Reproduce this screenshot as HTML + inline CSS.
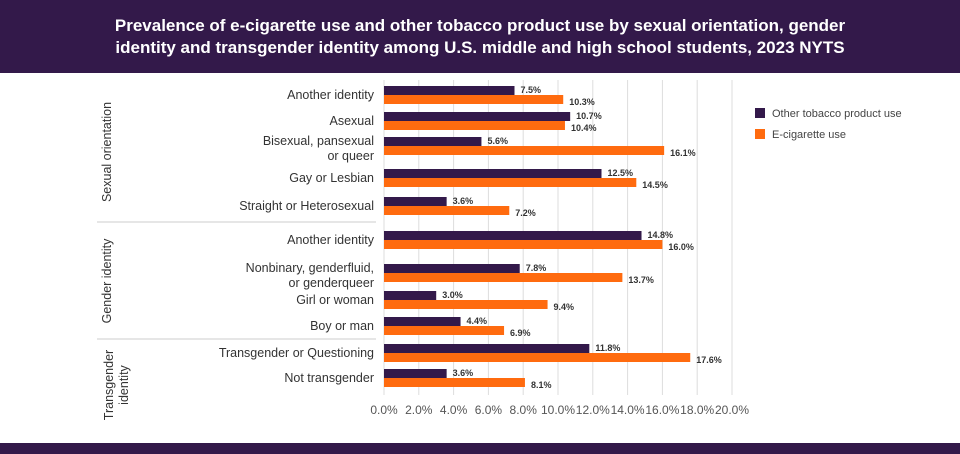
<!DOCTYPE html>
<html><head><meta charset="utf-8"><style>
body{margin:0;width:960px;height:454px;overflow:hidden;background:#fff;font-family:"Liberation Sans",sans-serif;}
#hdr{position:absolute;left:0;top:0;width:960px;height:73px;background:#33194a;color:#fff;text-align:center;font-size:17px;font-weight:bold;line-height:22px;padding-top:15px;box-sizing:border-box;}
#ftr{position:absolute;left:0;top:443px;width:960px;height:11px;background:#33194a;}
</style></head><body>
<div id="hdr">Prevalence of e-cigarette use and other tobacco product use by sexual orientation, gender<br>identity and transgender identity among U.S. middle and high school students, 2023 NYTS</div>
<svg id="chart" width="960" height="454" style="position:absolute;left:0;top:0"></svg>
<div id="ftr"></div>
<script>
const categories=[["Another identity"],["Asexual"],["Bisexual, pansexual","or queer"],["Gay or Lesbian"],["Straight or Heterosexual"],["Another identity"],["Nonbinary, genderfluid,","or genderqueer"],["Girl or woman"],["Boy or man"],["Transgender or Questioning"],["Not transgender"]];
const otherTobacco=[7.5,10.7,5.6,12.5,3.6,14.8,7.8,3.0,4.4,11.8,3.6];
const eCigarette=[10.3,10.4,16.1,14.5,7.2,16.0,13.7,9.4,6.9,17.6,8.1];
const ticks=[0,2,4,6,8,10,12,14,16,18,20];
const rowTops=[86,112,137,169,197,231,264,291,317,344,369];
const NS="http://www.w3.org/2000/svg";
const svg=document.getElementById('chart');
const x0=384,pxPer=17.4;
const xs=v=>x0+v*pxPer;
function mk(t,a,p){const e=document.createElementNS(NS,t);for(const k in a)e.setAttribute(k,a[k]);(p||svg).appendChild(e);return e;}
ticks.forEach(t=>{
 const l=mk('line',{x1:xs(t),x2:xs(t),y1:80,y2:395,stroke:'#ddd','stroke-width':1});
 
 
 const tx=mk('text',{x:xs(t),y:414,'text-anchor':'middle','font-size':12,fill:'#555'});
 tx.textContent=t.toFixed(1)+'%';
 
 
});
[222,339].forEach(y=>{const l=mk('line',{x1:97,x2:376,y1:y,y2:y,stroke:'#ccc'});
 
 });
categories.forEach((c,i)=>{
 const y=rowTops[i];
 const b1=mk('rect',{x:x0,y:y,width:xs(otherTobacco[i])-x0,height:9,fill:'#33194a'});
 
 
 const b2=mk('rect',{x:x0,y:y+9,width:xs(eCigarette[i])-x0,height:9,fill:'#ff6b0f'});
 
 
 const t1=mk('text',{x:xs(otherTobacco[i])+6,y:y+7,'font-size':9,'font-weight':'bold',fill:'#333'});
 t1.textContent=otherTobacco[i].toFixed(1)+'%';
 
 
 const t2=mk('text',{x:xs(eCigarette[i])+6,y:y+19,'font-size':9,'font-weight':'bold',fill:'#333'});
 t2.textContent=eCigarette[i].toFixed(1)+'%';
 
 
 c.forEach((ln,j)=>{
  const t=mk('text',{x:374,y:y+(c.length>1?8:13)+j*15,'text-anchor':'end','font-size':12.5,fill:'#333'});
  t.textContent=ln;
  
  
 });
});
[["Sexual orientation",111,152],["Gender identity",111,281],["Transgender",113,385],["identity",128,385]].forEach(g=>{
 const t=mk('text',{x:g[1],y:g[2],'text-anchor':'middle','font-size':12.5,fill:'#333',transform:`rotate(-90 ${g[1]} ${g[2]})`});
 t.textContent=g[0];
 
 
});
[["Other tobacco product use","#33194a",108],["E-cigarette use","#ff6b0f",129]].forEach(L=>{
 const r=mk('rect',{x:755,y:L[2],width:10,height:10,fill:L[1]});
 
 
 const t=mk('text',{x:772,y:L[2]+9,'font-size':11,fill:'#444'});
 t.textContent=L[0];
 
 
});
</script>
</body></html>
